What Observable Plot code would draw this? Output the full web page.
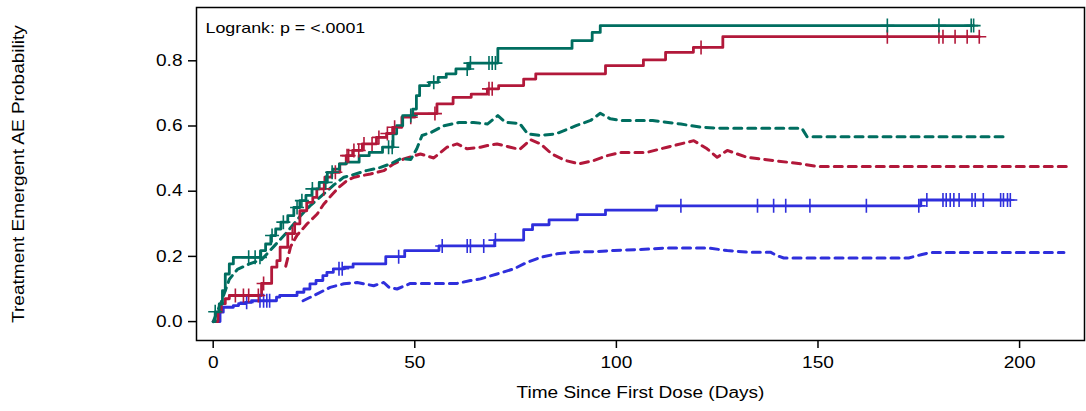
<!DOCTYPE html>
<html><head><meta charset="utf-8">
<script src="https://cdn.jsdelivr.net/npm/d3@7"></script>
<script src="https://cdn.jsdelivr.net/npm/@observablehq/plot@0.6"></script>
<style>html,body{margin:0;padding:0;background:#fff;} svg{display:block;}</style>
</head><body><div id="chart"></div>
<script>
// ---- data ----
const xTicks = [0, 50, 100, 150, 200];
const yTicks = [0, 0.2, 0.4, 0.6, 0.8];
const xTitle = "Time Since First Dose (Days)";
const yTitle = "Treatment Emergent AE Probability";
const statText = "Logrank: p = <.0001";

// solid Kaplan-Meier style step curves: [day, probability]
const greenSteps = [[0,0],[0.5,0.03],[1.5,0.054],[2.3,0.095],[3,0.146],[4,0.177],[5,0.197],[11.8,0.218],[13,0.238],[14.3,0.264],[15.5,0.284],[16.8,0.305],[18.5,0.325],[20,0.35],[21.5,0.371],[23,0.387],[24.5,0.407],[26.3,0.427],[28.3,0.458],[29.7,0.468],[31.3,0.484],[33,0.489],[36.2,0.509],[38.7,0.519],[42,0.535],[44.6,0.576],[45.5,0.601],[47,0.632],[49.5,0.652],[50.4,0.693],[51.2,0.724],[53.6,0.734],[55.8,0.749],[57.8,0.76],[60.2,0.775],[63.5,0.793],[70.6,0.838],[89,0.862],[94,0.887],[96,0.908],[188.6,0.908]];
const redSteps = [[0,0],[1.2,0.03],[2,0.055],[3,0.07],[4,0.08],[12,0.117],[14.5,0.167],[15.8,0.187],[16.6,0.228],[18.5,0.27],[20.2,0.30],[21.5,0.34],[23.2,0.366],[24.7,0.381],[25.7,0.407],[27.7,0.443],[29.4,0.458],[31.4,0.484],[33,0.509],[34.6,0.525],[37,0.545],[40.5,0.565],[43,0.577],[44.5,0.596],[46.8,0.627],[50,0.638],[55.5,0.668],[59.5,0.688],[64,0.698],[68,0.714],[70.8,0.724],[77,0.744],[80,0.76],[97.3,0.785],[106.7,0.803],[112.2,0.826],[119.1,0.841],[126.4,0.874],[190,0.874]];
const blueSteps = [[0,0],[1.7,0.029],[2.5,0.044],[5,0.049],[6.3,0.055],[8,0.059],[9.5,0.064],[15.7,0.075],[16.5,0.08],[20.8,0.09],[22.5,0.10],[24,0.116],[25.5,0.126],[27.2,0.141],[28.2,0.151],[29.8,0.162],[32.5,0.167],[34.7,0.177],[42.8,0.199],[47.5,0.218],[56,0.232],[69.8,0.25],[77,0.282],[79.2,0.297],[83.3,0.312],[90.3,0.328],[97.3,0.342],[110,0.355],[175.5,0.373],[197.7,0.373]];

// censoring times (days)
const greenCensor = [0.5,8.8,10.4,11.6,14.6,17.4,20.8,22,24.6,27.9,29.5,43.5,44.4,49,54.7,63,63.8,68.4,69.2,70,167.2,180,188,188.6];
const redCensor = [5.5,7.5,8.8,11.2,12.5,19.6,27.4,30.3,33.2,33.6,34.9,36.1,37.4,39.4,41.1,43.2,45,49,55,68.4,69.2,121,167.2,180,181,184,187,190];
const blueCensor = [8.3,11.6,12.5,13.3,14,31.2,32,46,56.8,63,63.8,67.1,70,116,135,139,142,148,162,175,177,181,181.8,182.8,183.7,185,188.2,189,191,195.3,196,197,197.7];

// dashed curves: [day, probability]
const greenDashed = [[0,0],[2,0.06],[4,0.13],[6,0.16],[9,0.177],[12,0.19],[15,0.23],[18,0.27],[21.7,0.325],[24,0.355],[27,0.387],[30,0.42],[32.4,0.443],[34,0.448],[38,0.463],[41.5,0.473],[44,0.484],[46.5,0.50],[49,0.497],[50.5,0.53],[51.8,0.571],[54,0.58],[57,0.60],[61,0.611],[64.6,0.611],[68,0.606],[70.6,0.632],[72.5,0.611],[76,0.608],[78,0.576],[81,0.571],[85,0.576],[90,0.601],[93.6,0.617],[96,0.639],[98.5,0.622],[101,0.617],[109,0.617],[116,0.606],[121,0.596],[126,0.593],[146,0.593],[147.3,0.567],[196,0.567]];
const redDashed = [[18,0.17],[19.2,0.23],[20.8,0.265],[23.3,0.30],[25.8,0.33],[27.4,0.36],[29.5,0.39],[31,0.41],[33.2,0.433],[35,0.443],[39,0.453],[42.3,0.463],[44.8,0.484],[47.3,0.499],[51.4,0.514],[54.7,0.502],[58,0.535],[60.5,0.545],[63,0.53],[66.3,0.535],[68,0.54],[70.4,0.545],[73.7,0.535],[76,0.528],[78.7,0.558],[81.2,0.545],[84,0.514],[87.4,0.494],[90.7,0.484],[94.4,0.494],[97.7,0.509],[101,0.519],[107.6,0.519],[112.6,0.535],[119.2,0.555],[122.5,0.53],[125,0.504],[127.5,0.525],[132.4,0.504],[139,0.494],[145.7,0.484],[149.8,0.476],[213,0.476]];
const blueDashed = [[22.3,0.064],[25.8,0.085],[29,0.105],[32.4,0.116],[35.7,0.12],[39.8,0.11],[42.3,0.12],[43.6,0.105],[45.6,0.10],[48.9,0.117],[53.9,0.117],[60.5,0.117],[63.8,0.126],[66.3,0.131],[70.4,0.146],[74.6,0.162],[77.9,0.182],[81.2,0.197],[85.3,0.208],[89.4,0.213],[95.2,0.215],[99.4,0.218],[106,0.221],[112.6,0.226],[122.5,0.226],[127.5,0.218],[132.4,0.213],[138.2,0.213],[139.9,0.202],[141.5,0.195],[172.5,0.195],[175.8,0.206],[177.9,0.212],[211,0.212]];

const colors = {green: "#006e60", red: "#b2183a", blue: "#2f2fdc"};

// ---- helpers ----
const rows = (pairs) => pairs.map(([d, p]) => ({d, p}));
const stepAt = (pairs, t) => { let v = 0; for (const [d, p] of pairs) if (d <= t) v = p; return v; };
const censorRows = (times, steps) => times.map(t => ({d: t, p: stepAt(steps, t)}));

const censorSymbol = {
  draw(context) {
    const r = 7;
    context.moveTo(-r, 0); context.lineTo(r, 0);
    context.moveTo(0, -r); context.lineTo(0, r);
  }
};

const dashedLine = (pairs, color) => Plot.line(rows(pairs), {x: "d", y: "p", stroke: color, strokeWidth: 3, strokeDasharray: "8,6", curve: "linear"});
const stepLine = (pairs, color) => Plot.line(rows(pairs), {x: "d", y: "p", stroke: color, strokeWidth: 2.8, curve: "step-after"});
const censorDots = (times, steps, color) => Plot.dot(censorRows(times, steps), {x: "d", y: "p", symbol: censorSymbol, stroke: color, strokeWidth: 1.6, fill: "none"});

const chart = Plot.plot({
  width: 1086, height: 411,
  marginLeft: 196, marginRight: 2, marginTop: 7, marginBottom: 71,
  style: {fontFamily: "'Liberation Sans', Arial, sans-serif", fontSize: "16px", background: "#fff", color: "#000"},
  x: {domain: [-4.14, 216.1]},
  y: {domain: [-0.058, 0.9635]},
  marks: [
    dashedLine(blueDashed, colors.blue),
    dashedLine(redDashed, colors.red),
    dashedLine(greenDashed, colors.green),
    stepLine(blueSteps, colors.blue),
    stepLine(redSteps, colors.red),
    stepLine(greenSteps, colors.green),
    censorDots(blueCensor, blueSteps, colors.blue),
    censorDots(redCensor, redSteps, colors.red),
    censorDots(greenCensor, greenSteps, colors.green),
    Plot.frame({stroke: "#000", strokeWidth: 1.5}),
    Plot.axisX(xTicks, {tickSize: 8, tickPadding: 8, strokeWidth: 1.5, label: null, fontSize: 16}),
    Plot.axisY(yTicks, {tickSize: 8, tickPadding: 6, strokeWidth: 1.5, tickFormat: d3.format(".1f"), label: null, fontSize: 16}),
    Plot.text([xTitle], {frameAnchor: "bottom", dy: 57, textAnchor: "middle", fontSize: 16, fill: "#000"}),
    Plot.text([yTitle], {frameAnchor: "left", dx: -178, rotate: -90, textAnchor: "middle", lineAnchor: "middle", fontSize: 16, fill: "#000"}),
    Plot.text([statText], {frameAnchor: "top-left", dx: 9, dy: 15, textAnchor: "start", fontSize: 15, fill: "#000"})
  ]
});
document.getElementById("chart").appendChild(chart);

// widen glyphs horizontally to match the reference's wider lettering;
// anchor everything at "start" so the stretched width stays centred/aligned
const stretch = 1.19;
chart.querySelectorAll("text").forEach(el => {
  const len = el.getComputedTextLength();
  if (!(len > 0)) return;
  const anchor = getComputedStyle(el).textAnchor;
  const newLen = len * stretch;
  const x0 = parseFloat(el.getAttribute("x") || "0") || 0;
  el.setAttribute("textLength", newLen.toFixed(1));
  el.setAttribute("lengthAdjust", "spacingAndGlyphs");
  if (anchor === "middle") {
    el.setAttribute("text-anchor", "start");
    el.style.textAnchor = "start";
    el.setAttribute("x", (x0 - newLen / 2).toFixed(1));
  } else if (anchor === "end") {
    el.setAttribute("text-anchor", "start");
    el.style.textAnchor = "start";
    el.setAttribute("x", (x0 - newLen).toFixed(1));
  }
});
</script>
</body></html>
